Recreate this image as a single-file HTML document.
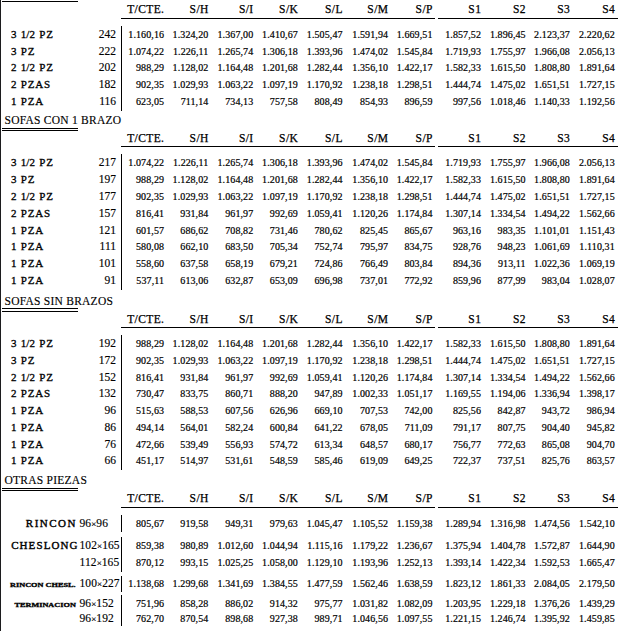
<!DOCTYPE html>
<html><head><meta charset="utf-8"><style>
html,body{margin:0;padding:0;background:#fff;width:631px;height:631px;overflow:hidden;position:relative}
.t{position:absolute;font-family:'Liberation Serif', serif;line-height:1;white-space:nowrap;color:#000}
.l{position:absolute;background:#000}
</style></head><body>
<div class="l" style="left:2px;top:1px;width:76px;height:1px"></div>
<div class="l" style="left:0;top:0;width:1px;height:631px;background:#1c1c1e"></div>
<div class="t" style="right:467.00px;top:4.00px;font-size:11.5px;font-weight:normal;-webkit-text-stroke:0.25px #000;letter-spacing:0.4px;margin-right:-0.4px">T/CTE.</div>
<div class="t" style="right:422.70px;top:4.00px;font-size:11.5px;font-weight:normal;-webkit-text-stroke:0.25px #000;letter-spacing:0.4px;margin-right:-0.4px">S/H</div>
<div class="t" style="right:377.80px;top:4.00px;font-size:11.5px;font-weight:normal;-webkit-text-stroke:0.25px #000;letter-spacing:0.4px;margin-right:-0.4px">S/I</div>
<div class="t" style="right:333.20px;top:4.00px;font-size:11.5px;font-weight:normal;-webkit-text-stroke:0.25px #000;letter-spacing:0.4px;margin-right:-0.4px">S/K</div>
<div class="t" style="right:288.50px;top:4.00px;font-size:11.5px;font-weight:normal;-webkit-text-stroke:0.25px #000;letter-spacing:0.4px;margin-right:-0.4px">S/L</div>
<div class="t" style="right:243.00px;top:4.00px;font-size:11.5px;font-weight:normal;-webkit-text-stroke:0.25px #000;letter-spacing:0.4px;margin-right:-0.4px">S/M</div>
<div class="t" style="right:198.60px;top:4.00px;font-size:11.5px;font-weight:normal;-webkit-text-stroke:0.25px #000;letter-spacing:0.4px;margin-right:-0.4px">S/P</div>
<div class="t" style="right:150.10px;top:4.00px;font-size:11.5px;font-weight:normal;-webkit-text-stroke:0.25px #000;letter-spacing:0.4px;margin-right:-0.4px">S1</div>
<div class="t" style="right:105.40px;top:4.00px;font-size:11.5px;font-weight:normal;-webkit-text-stroke:0.25px #000;letter-spacing:0.4px;margin-right:-0.4px">S2</div>
<div class="t" style="right:61.20px;top:4.00px;font-size:11.5px;font-weight:normal;-webkit-text-stroke:0.25px #000;letter-spacing:0.4px;margin-right:-0.4px">S3</div>
<div class="t" style="right:16.30px;top:4.00px;font-size:11.5px;font-weight:normal;-webkit-text-stroke:0.25px #000;letter-spacing:0.4px;margin-right:-0.4px">S4</div>
<div class="l" style="left:121px;top:18px;width:314px;height:1px"></div>
<div class="l" style="left:438px;top:18px;width:180px;height:1px"></div>
<div class="t" style="left:11.00px;top:29.00px;font-size:11px;font-weight:normal;-webkit-text-stroke:0.3px #000;letter-spacing:0.8px">3 <span style="letter-spacing:0">1/</span>2 PZ</div>
<div class="t" style="right:515.00px;top:29.00px;font-size:11.5px;font-weight:normal;-webkit-text-stroke:0.15px #000">242</div>
<div class="t" style="right:467.00px;top:30.00px;font-size:10px;font-weight:normal;letter-spacing:0.1px;margin-right:-0.1px;-webkit-text-stroke:0.2px #000">1.160,16</div>
<div class="t" style="right:422.70px;top:30.00px;font-size:10px;font-weight:normal;letter-spacing:0.1px;margin-right:-0.1px;-webkit-text-stroke:0.2px #000">1.324,20</div>
<div class="t" style="right:377.80px;top:30.00px;font-size:10px;font-weight:normal;letter-spacing:0.1px;margin-right:-0.1px;-webkit-text-stroke:0.2px #000">1.367,00</div>
<div class="t" style="right:333.20px;top:30.00px;font-size:10px;font-weight:normal;letter-spacing:0.1px;margin-right:-0.1px;-webkit-text-stroke:0.2px #000">1.410,67</div>
<div class="t" style="right:288.50px;top:30.00px;font-size:10px;font-weight:normal;letter-spacing:0.1px;margin-right:-0.1px;-webkit-text-stroke:0.2px #000">1.505,47</div>
<div class="t" style="right:243.00px;top:30.00px;font-size:10px;font-weight:normal;letter-spacing:0.1px;margin-right:-0.1px;-webkit-text-stroke:0.2px #000">1.591,94</div>
<div class="t" style="right:198.60px;top:30.00px;font-size:10px;font-weight:normal;letter-spacing:0.1px;margin-right:-0.1px;-webkit-text-stroke:0.2px #000">1.669,51</div>
<div class="t" style="right:150.10px;top:30.00px;font-size:10px;font-weight:normal;letter-spacing:0.1px;margin-right:-0.1px;-webkit-text-stroke:0.2px #000">1.857,52</div>
<div class="t" style="right:105.40px;top:30.00px;font-size:10px;font-weight:normal;letter-spacing:0.1px;margin-right:-0.1px;-webkit-text-stroke:0.2px #000">1.896,45</div>
<div class="t" style="right:61.20px;top:30.00px;font-size:10px;font-weight:normal;letter-spacing:0.1px;margin-right:-0.1px;-webkit-text-stroke:0.2px #000">2.123,37</div>
<div class="t" style="right:16.30px;top:30.00px;font-size:10px;font-weight:normal;letter-spacing:0.1px;margin-right:-0.1px;-webkit-text-stroke:0.2px #000">2.220,62</div>
<div class="t" style="left:11.00px;top:46.00px;font-size:11px;font-weight:normal;-webkit-text-stroke:0.3px #000;letter-spacing:0.8px">3 PZ</div>
<div class="t" style="right:515.00px;top:46.00px;font-size:11.5px;font-weight:normal;-webkit-text-stroke:0.15px #000">222</div>
<div class="t" style="right:467.00px;top:47.00px;font-size:10px;font-weight:normal;letter-spacing:0.1px;margin-right:-0.1px;-webkit-text-stroke:0.2px #000">1.074,22</div>
<div class="t" style="right:422.70px;top:47.00px;font-size:10px;font-weight:normal;letter-spacing:0.1px;margin-right:-0.1px;-webkit-text-stroke:0.2px #000">1.226,11</div>
<div class="t" style="right:377.80px;top:47.00px;font-size:10px;font-weight:normal;letter-spacing:0.1px;margin-right:-0.1px;-webkit-text-stroke:0.2px #000">1.265,74</div>
<div class="t" style="right:333.20px;top:47.00px;font-size:10px;font-weight:normal;letter-spacing:0.1px;margin-right:-0.1px;-webkit-text-stroke:0.2px #000">1.306,18</div>
<div class="t" style="right:288.50px;top:47.00px;font-size:10px;font-weight:normal;letter-spacing:0.1px;margin-right:-0.1px;-webkit-text-stroke:0.2px #000">1.393,96</div>
<div class="t" style="right:243.00px;top:47.00px;font-size:10px;font-weight:normal;letter-spacing:0.1px;margin-right:-0.1px;-webkit-text-stroke:0.2px #000">1.474,02</div>
<div class="t" style="right:198.60px;top:47.00px;font-size:10px;font-weight:normal;letter-spacing:0.1px;margin-right:-0.1px;-webkit-text-stroke:0.2px #000">1.545,84</div>
<div class="t" style="right:150.10px;top:47.00px;font-size:10px;font-weight:normal;letter-spacing:0.1px;margin-right:-0.1px;-webkit-text-stroke:0.2px #000">1.719,93</div>
<div class="t" style="right:105.40px;top:47.00px;font-size:10px;font-weight:normal;letter-spacing:0.1px;margin-right:-0.1px;-webkit-text-stroke:0.2px #000">1.755,97</div>
<div class="t" style="right:61.20px;top:47.00px;font-size:10px;font-weight:normal;letter-spacing:0.1px;margin-right:-0.1px;-webkit-text-stroke:0.2px #000">1.966,08</div>
<div class="t" style="right:16.30px;top:47.00px;font-size:10px;font-weight:normal;letter-spacing:0.1px;margin-right:-0.1px;-webkit-text-stroke:0.2px #000">2.056,13</div>
<div class="t" style="left:11.00px;top:62.00px;font-size:11px;font-weight:normal;-webkit-text-stroke:0.3px #000;letter-spacing:0.8px">2 <span style="letter-spacing:0">1/</span>2 PZ</div>
<div class="t" style="right:515.00px;top:62.00px;font-size:11.5px;font-weight:normal;-webkit-text-stroke:0.15px #000">202</div>
<div class="t" style="right:467.00px;top:63.00px;font-size:10px;font-weight:normal;letter-spacing:0.1px;margin-right:-0.1px;-webkit-text-stroke:0.2px #000">988,29</div>
<div class="t" style="right:422.70px;top:63.00px;font-size:10px;font-weight:normal;letter-spacing:0.1px;margin-right:-0.1px;-webkit-text-stroke:0.2px #000">1.128,02</div>
<div class="t" style="right:377.80px;top:63.00px;font-size:10px;font-weight:normal;letter-spacing:0.1px;margin-right:-0.1px;-webkit-text-stroke:0.2px #000">1.164,48</div>
<div class="t" style="right:333.20px;top:63.00px;font-size:10px;font-weight:normal;letter-spacing:0.1px;margin-right:-0.1px;-webkit-text-stroke:0.2px #000">1.201,68</div>
<div class="t" style="right:288.50px;top:63.00px;font-size:10px;font-weight:normal;letter-spacing:0.1px;margin-right:-0.1px;-webkit-text-stroke:0.2px #000">1.282,44</div>
<div class="t" style="right:243.00px;top:63.00px;font-size:10px;font-weight:normal;letter-spacing:0.1px;margin-right:-0.1px;-webkit-text-stroke:0.2px #000">1.356,10</div>
<div class="t" style="right:198.60px;top:63.00px;font-size:10px;font-weight:normal;letter-spacing:0.1px;margin-right:-0.1px;-webkit-text-stroke:0.2px #000">1.422,17</div>
<div class="t" style="right:150.10px;top:63.00px;font-size:10px;font-weight:normal;letter-spacing:0.1px;margin-right:-0.1px;-webkit-text-stroke:0.2px #000">1.582,33</div>
<div class="t" style="right:105.40px;top:63.00px;font-size:10px;font-weight:normal;letter-spacing:0.1px;margin-right:-0.1px;-webkit-text-stroke:0.2px #000">1.615,50</div>
<div class="t" style="right:61.20px;top:63.00px;font-size:10px;font-weight:normal;letter-spacing:0.1px;margin-right:-0.1px;-webkit-text-stroke:0.2px #000">1.808,80</div>
<div class="t" style="right:16.30px;top:63.00px;font-size:10px;font-weight:normal;letter-spacing:0.1px;margin-right:-0.1px;-webkit-text-stroke:0.2px #000">1.891,64</div>
<div class="t" style="left:11.00px;top:79.00px;font-size:11px;font-weight:normal;-webkit-text-stroke:0.3px #000;letter-spacing:0.8px">2 PZAS</div>
<div class="t" style="right:515.00px;top:79.00px;font-size:11.5px;font-weight:normal;-webkit-text-stroke:0.15px #000">182</div>
<div class="t" style="right:467.00px;top:80.00px;font-size:10px;font-weight:normal;letter-spacing:0.1px;margin-right:-0.1px;-webkit-text-stroke:0.2px #000">902,35</div>
<div class="t" style="right:422.70px;top:80.00px;font-size:10px;font-weight:normal;letter-spacing:0.1px;margin-right:-0.1px;-webkit-text-stroke:0.2px #000">1.029,93</div>
<div class="t" style="right:377.80px;top:80.00px;font-size:10px;font-weight:normal;letter-spacing:0.1px;margin-right:-0.1px;-webkit-text-stroke:0.2px #000">1.063,22</div>
<div class="t" style="right:333.20px;top:80.00px;font-size:10px;font-weight:normal;letter-spacing:0.1px;margin-right:-0.1px;-webkit-text-stroke:0.2px #000">1.097,19</div>
<div class="t" style="right:288.50px;top:80.00px;font-size:10px;font-weight:normal;letter-spacing:0.1px;margin-right:-0.1px;-webkit-text-stroke:0.2px #000">1.170,92</div>
<div class="t" style="right:243.00px;top:80.00px;font-size:10px;font-weight:normal;letter-spacing:0.1px;margin-right:-0.1px;-webkit-text-stroke:0.2px #000">1.238,18</div>
<div class="t" style="right:198.60px;top:80.00px;font-size:10px;font-weight:normal;letter-spacing:0.1px;margin-right:-0.1px;-webkit-text-stroke:0.2px #000">1.298,51</div>
<div class="t" style="right:150.10px;top:80.00px;font-size:10px;font-weight:normal;letter-spacing:0.1px;margin-right:-0.1px;-webkit-text-stroke:0.2px #000">1.444,74</div>
<div class="t" style="right:105.40px;top:80.00px;font-size:10px;font-weight:normal;letter-spacing:0.1px;margin-right:-0.1px;-webkit-text-stroke:0.2px #000">1.475,02</div>
<div class="t" style="right:61.20px;top:80.00px;font-size:10px;font-weight:normal;letter-spacing:0.1px;margin-right:-0.1px;-webkit-text-stroke:0.2px #000">1.651,51</div>
<div class="t" style="right:16.30px;top:80.00px;font-size:10px;font-weight:normal;letter-spacing:0.1px;margin-right:-0.1px;-webkit-text-stroke:0.2px #000">1.727,15</div>
<div class="t" style="left:11.00px;top:96.00px;font-size:11px;font-weight:normal;-webkit-text-stroke:0.3px #000;letter-spacing:0.8px">1 PZA</div>
<div class="t" style="right:515.00px;top:96.00px;font-size:11.5px;font-weight:normal;-webkit-text-stroke:0.15px #000">116</div>
<div class="t" style="right:467.00px;top:97.00px;font-size:10px;font-weight:normal;letter-spacing:0.1px;margin-right:-0.1px;-webkit-text-stroke:0.2px #000">623,05</div>
<div class="t" style="right:422.70px;top:97.00px;font-size:10px;font-weight:normal;letter-spacing:0.1px;margin-right:-0.1px;-webkit-text-stroke:0.2px #000">711,14</div>
<div class="t" style="right:377.80px;top:97.00px;font-size:10px;font-weight:normal;letter-spacing:0.1px;margin-right:-0.1px;-webkit-text-stroke:0.2px #000">734,13</div>
<div class="t" style="right:333.20px;top:97.00px;font-size:10px;font-weight:normal;letter-spacing:0.1px;margin-right:-0.1px;-webkit-text-stroke:0.2px #000">757,58</div>
<div class="t" style="right:288.50px;top:97.00px;font-size:10px;font-weight:normal;letter-spacing:0.1px;margin-right:-0.1px;-webkit-text-stroke:0.2px #000">808,49</div>
<div class="t" style="right:243.00px;top:97.00px;font-size:10px;font-weight:normal;letter-spacing:0.1px;margin-right:-0.1px;-webkit-text-stroke:0.2px #000">854,93</div>
<div class="t" style="right:198.60px;top:97.00px;font-size:10px;font-weight:normal;letter-spacing:0.1px;margin-right:-0.1px;-webkit-text-stroke:0.2px #000">896,59</div>
<div class="t" style="right:150.10px;top:97.00px;font-size:10px;font-weight:normal;letter-spacing:0.1px;margin-right:-0.1px;-webkit-text-stroke:0.2px #000">997,56</div>
<div class="t" style="right:105.40px;top:97.00px;font-size:10px;font-weight:normal;letter-spacing:0.1px;margin-right:-0.1px;-webkit-text-stroke:0.2px #000">1.018,46</div>
<div class="t" style="right:61.20px;top:97.00px;font-size:10px;font-weight:normal;letter-spacing:0.1px;margin-right:-0.1px;-webkit-text-stroke:0.2px #000">1.140,33</div>
<div class="t" style="right:16.30px;top:97.00px;font-size:10px;font-weight:normal;letter-spacing:0.1px;margin-right:-0.1px;-webkit-text-stroke:0.2px #000">1.192,56</div>
<div class="l" style="left:121px;top:26px;width:1px;height:85px"></div>
<div class="t" style="left:4.50px;top:115.00px;font-size:11.5px;font-weight:normal;letter-spacing:0.25px;-webkit-text-stroke:0.15px #000">SOFAS CON 1 BRAZO</div>
<div class="l" style="left:2px;top:128px;width:76px;height:1px"></div>
<div class="l" style="left:2px;top:130px;width:76px;height:1px"></div>
<div class="t" style="right:467.00px;top:133.00px;font-size:11.5px;font-weight:normal;-webkit-text-stroke:0.25px #000;letter-spacing:0.4px;margin-right:-0.4px">T/CTE.</div>
<div class="t" style="right:422.70px;top:133.00px;font-size:11.5px;font-weight:normal;-webkit-text-stroke:0.25px #000;letter-spacing:0.4px;margin-right:-0.4px">S/H</div>
<div class="t" style="right:377.80px;top:133.00px;font-size:11.5px;font-weight:normal;-webkit-text-stroke:0.25px #000;letter-spacing:0.4px;margin-right:-0.4px">S/I</div>
<div class="t" style="right:333.20px;top:133.00px;font-size:11.5px;font-weight:normal;-webkit-text-stroke:0.25px #000;letter-spacing:0.4px;margin-right:-0.4px">S/K</div>
<div class="t" style="right:288.50px;top:133.00px;font-size:11.5px;font-weight:normal;-webkit-text-stroke:0.25px #000;letter-spacing:0.4px;margin-right:-0.4px">S/L</div>
<div class="t" style="right:243.00px;top:133.00px;font-size:11.5px;font-weight:normal;-webkit-text-stroke:0.25px #000;letter-spacing:0.4px;margin-right:-0.4px">S/M</div>
<div class="t" style="right:198.60px;top:133.00px;font-size:11.5px;font-weight:normal;-webkit-text-stroke:0.25px #000;letter-spacing:0.4px;margin-right:-0.4px">S/P</div>
<div class="t" style="right:150.10px;top:133.00px;font-size:11.5px;font-weight:normal;-webkit-text-stroke:0.25px #000;letter-spacing:0.4px;margin-right:-0.4px">S1</div>
<div class="t" style="right:105.40px;top:133.00px;font-size:11.5px;font-weight:normal;-webkit-text-stroke:0.25px #000;letter-spacing:0.4px;margin-right:-0.4px">S2</div>
<div class="t" style="right:61.20px;top:133.00px;font-size:11.5px;font-weight:normal;-webkit-text-stroke:0.25px #000;letter-spacing:0.4px;margin-right:-0.4px">S3</div>
<div class="t" style="right:16.30px;top:133.00px;font-size:11.5px;font-weight:normal;-webkit-text-stroke:0.25px #000;letter-spacing:0.4px;margin-right:-0.4px">S4</div>
<div class="l" style="left:121px;top:146px;width:314px;height:1px"></div>
<div class="l" style="left:438px;top:146px;width:180px;height:1px"></div>
<div class="t" style="left:11.00px;top:157.00px;font-size:11px;font-weight:normal;-webkit-text-stroke:0.3px #000;letter-spacing:0.8px">3 <span style="letter-spacing:0">1/</span>2 PZ</div>
<div class="t" style="right:515.00px;top:157.00px;font-size:11.5px;font-weight:normal;-webkit-text-stroke:0.15px #000">217</div>
<div class="t" style="right:467.00px;top:158.00px;font-size:10px;font-weight:normal;letter-spacing:0.1px;margin-right:-0.1px;-webkit-text-stroke:0.2px #000">1.074,22</div>
<div class="t" style="right:422.70px;top:158.00px;font-size:10px;font-weight:normal;letter-spacing:0.1px;margin-right:-0.1px;-webkit-text-stroke:0.2px #000">1.226,11</div>
<div class="t" style="right:377.80px;top:158.00px;font-size:10px;font-weight:normal;letter-spacing:0.1px;margin-right:-0.1px;-webkit-text-stroke:0.2px #000">1.265,74</div>
<div class="t" style="right:333.20px;top:158.00px;font-size:10px;font-weight:normal;letter-spacing:0.1px;margin-right:-0.1px;-webkit-text-stroke:0.2px #000">1.306,18</div>
<div class="t" style="right:288.50px;top:158.00px;font-size:10px;font-weight:normal;letter-spacing:0.1px;margin-right:-0.1px;-webkit-text-stroke:0.2px #000">1.393,96</div>
<div class="t" style="right:243.00px;top:158.00px;font-size:10px;font-weight:normal;letter-spacing:0.1px;margin-right:-0.1px;-webkit-text-stroke:0.2px #000">1.474,02</div>
<div class="t" style="right:198.60px;top:158.00px;font-size:10px;font-weight:normal;letter-spacing:0.1px;margin-right:-0.1px;-webkit-text-stroke:0.2px #000">1.545,84</div>
<div class="t" style="right:150.10px;top:158.00px;font-size:10px;font-weight:normal;letter-spacing:0.1px;margin-right:-0.1px;-webkit-text-stroke:0.2px #000">1.719,93</div>
<div class="t" style="right:105.40px;top:158.00px;font-size:10px;font-weight:normal;letter-spacing:0.1px;margin-right:-0.1px;-webkit-text-stroke:0.2px #000">1.755,97</div>
<div class="t" style="right:61.20px;top:158.00px;font-size:10px;font-weight:normal;letter-spacing:0.1px;margin-right:-0.1px;-webkit-text-stroke:0.2px #000">1.966,08</div>
<div class="t" style="right:16.30px;top:158.00px;font-size:10px;font-weight:normal;letter-spacing:0.1px;margin-right:-0.1px;-webkit-text-stroke:0.2px #000">2.056,13</div>
<div class="t" style="left:11.00px;top:174.00px;font-size:11px;font-weight:normal;-webkit-text-stroke:0.3px #000;letter-spacing:0.8px">3 PZ</div>
<div class="t" style="right:515.00px;top:174.00px;font-size:11.5px;font-weight:normal;-webkit-text-stroke:0.15px #000">197</div>
<div class="t" style="right:467.00px;top:175.00px;font-size:10px;font-weight:normal;letter-spacing:0.1px;margin-right:-0.1px;-webkit-text-stroke:0.2px #000">988,29</div>
<div class="t" style="right:422.70px;top:175.00px;font-size:10px;font-weight:normal;letter-spacing:0.1px;margin-right:-0.1px;-webkit-text-stroke:0.2px #000">1.128,02</div>
<div class="t" style="right:377.80px;top:175.00px;font-size:10px;font-weight:normal;letter-spacing:0.1px;margin-right:-0.1px;-webkit-text-stroke:0.2px #000">1.164,48</div>
<div class="t" style="right:333.20px;top:175.00px;font-size:10px;font-weight:normal;letter-spacing:0.1px;margin-right:-0.1px;-webkit-text-stroke:0.2px #000">1.201,68</div>
<div class="t" style="right:288.50px;top:175.00px;font-size:10px;font-weight:normal;letter-spacing:0.1px;margin-right:-0.1px;-webkit-text-stroke:0.2px #000">1.282,44</div>
<div class="t" style="right:243.00px;top:175.00px;font-size:10px;font-weight:normal;letter-spacing:0.1px;margin-right:-0.1px;-webkit-text-stroke:0.2px #000">1.356,10</div>
<div class="t" style="right:198.60px;top:175.00px;font-size:10px;font-weight:normal;letter-spacing:0.1px;margin-right:-0.1px;-webkit-text-stroke:0.2px #000">1.422,17</div>
<div class="t" style="right:150.10px;top:175.00px;font-size:10px;font-weight:normal;letter-spacing:0.1px;margin-right:-0.1px;-webkit-text-stroke:0.2px #000">1.582,33</div>
<div class="t" style="right:105.40px;top:175.00px;font-size:10px;font-weight:normal;letter-spacing:0.1px;margin-right:-0.1px;-webkit-text-stroke:0.2px #000">1.615,50</div>
<div class="t" style="right:61.20px;top:175.00px;font-size:10px;font-weight:normal;letter-spacing:0.1px;margin-right:-0.1px;-webkit-text-stroke:0.2px #000">1.808,80</div>
<div class="t" style="right:16.30px;top:175.00px;font-size:10px;font-weight:normal;letter-spacing:0.1px;margin-right:-0.1px;-webkit-text-stroke:0.2px #000">1.891,64</div>
<div class="t" style="left:11.00px;top:191.00px;font-size:11px;font-weight:normal;-webkit-text-stroke:0.3px #000;letter-spacing:0.8px">2 <span style="letter-spacing:0">1/</span>2 PZ</div>
<div class="t" style="right:515.00px;top:191.00px;font-size:11.5px;font-weight:normal;-webkit-text-stroke:0.15px #000">177</div>
<div class="t" style="right:467.00px;top:192.00px;font-size:10px;font-weight:normal;letter-spacing:0.1px;margin-right:-0.1px;-webkit-text-stroke:0.2px #000">902,35</div>
<div class="t" style="right:422.70px;top:192.00px;font-size:10px;font-weight:normal;letter-spacing:0.1px;margin-right:-0.1px;-webkit-text-stroke:0.2px #000">1.029,93</div>
<div class="t" style="right:377.80px;top:192.00px;font-size:10px;font-weight:normal;letter-spacing:0.1px;margin-right:-0.1px;-webkit-text-stroke:0.2px #000">1.063,22</div>
<div class="t" style="right:333.20px;top:192.00px;font-size:10px;font-weight:normal;letter-spacing:0.1px;margin-right:-0.1px;-webkit-text-stroke:0.2px #000">1.097,19</div>
<div class="t" style="right:288.50px;top:192.00px;font-size:10px;font-weight:normal;letter-spacing:0.1px;margin-right:-0.1px;-webkit-text-stroke:0.2px #000">1.170,92</div>
<div class="t" style="right:243.00px;top:192.00px;font-size:10px;font-weight:normal;letter-spacing:0.1px;margin-right:-0.1px;-webkit-text-stroke:0.2px #000">1.238,18</div>
<div class="t" style="right:198.60px;top:192.00px;font-size:10px;font-weight:normal;letter-spacing:0.1px;margin-right:-0.1px;-webkit-text-stroke:0.2px #000">1.298,51</div>
<div class="t" style="right:150.10px;top:192.00px;font-size:10px;font-weight:normal;letter-spacing:0.1px;margin-right:-0.1px;-webkit-text-stroke:0.2px #000">1.444,74</div>
<div class="t" style="right:105.40px;top:192.00px;font-size:10px;font-weight:normal;letter-spacing:0.1px;margin-right:-0.1px;-webkit-text-stroke:0.2px #000">1.475,02</div>
<div class="t" style="right:61.20px;top:192.00px;font-size:10px;font-weight:normal;letter-spacing:0.1px;margin-right:-0.1px;-webkit-text-stroke:0.2px #000">1.651,51</div>
<div class="t" style="right:16.30px;top:192.00px;font-size:10px;font-weight:normal;letter-spacing:0.1px;margin-right:-0.1px;-webkit-text-stroke:0.2px #000">1.727,15</div>
<div class="t" style="left:11.00px;top:208.00px;font-size:11px;font-weight:normal;-webkit-text-stroke:0.3px #000;letter-spacing:0.8px">2 PZAS</div>
<div class="t" style="right:515.00px;top:208.00px;font-size:11.5px;font-weight:normal;-webkit-text-stroke:0.15px #000">157</div>
<div class="t" style="right:467.00px;top:209.00px;font-size:10px;font-weight:normal;letter-spacing:0.1px;margin-right:-0.1px;-webkit-text-stroke:0.2px #000">816,41</div>
<div class="t" style="right:422.70px;top:209.00px;font-size:10px;font-weight:normal;letter-spacing:0.1px;margin-right:-0.1px;-webkit-text-stroke:0.2px #000">931,84</div>
<div class="t" style="right:377.80px;top:209.00px;font-size:10px;font-weight:normal;letter-spacing:0.1px;margin-right:-0.1px;-webkit-text-stroke:0.2px #000">961,97</div>
<div class="t" style="right:333.20px;top:209.00px;font-size:10px;font-weight:normal;letter-spacing:0.1px;margin-right:-0.1px;-webkit-text-stroke:0.2px #000">992,69</div>
<div class="t" style="right:288.50px;top:209.00px;font-size:10px;font-weight:normal;letter-spacing:0.1px;margin-right:-0.1px;-webkit-text-stroke:0.2px #000">1.059,41</div>
<div class="t" style="right:243.00px;top:209.00px;font-size:10px;font-weight:normal;letter-spacing:0.1px;margin-right:-0.1px;-webkit-text-stroke:0.2px #000">1.120,26</div>
<div class="t" style="right:198.60px;top:209.00px;font-size:10px;font-weight:normal;letter-spacing:0.1px;margin-right:-0.1px;-webkit-text-stroke:0.2px #000">1.174,84</div>
<div class="t" style="right:150.10px;top:209.00px;font-size:10px;font-weight:normal;letter-spacing:0.1px;margin-right:-0.1px;-webkit-text-stroke:0.2px #000">1.307,14</div>
<div class="t" style="right:105.40px;top:209.00px;font-size:10px;font-weight:normal;letter-spacing:0.1px;margin-right:-0.1px;-webkit-text-stroke:0.2px #000">1.334,54</div>
<div class="t" style="right:61.20px;top:209.00px;font-size:10px;font-weight:normal;letter-spacing:0.1px;margin-right:-0.1px;-webkit-text-stroke:0.2px #000">1.494,22</div>
<div class="t" style="right:16.30px;top:209.00px;font-size:10px;font-weight:normal;letter-spacing:0.1px;margin-right:-0.1px;-webkit-text-stroke:0.2px #000">1.562,66</div>
<div class="t" style="left:11.00px;top:225.00px;font-size:11px;font-weight:normal;-webkit-text-stroke:0.3px #000;letter-spacing:0.8px">1 PZA</div>
<div class="t" style="right:515.00px;top:225.00px;font-size:11.5px;font-weight:normal;-webkit-text-stroke:0.15px #000">121</div>
<div class="t" style="right:467.00px;top:226.00px;font-size:10px;font-weight:normal;letter-spacing:0.1px;margin-right:-0.1px;-webkit-text-stroke:0.2px #000">601,57</div>
<div class="t" style="right:422.70px;top:226.00px;font-size:10px;font-weight:normal;letter-spacing:0.1px;margin-right:-0.1px;-webkit-text-stroke:0.2px #000">686,62</div>
<div class="t" style="right:377.80px;top:226.00px;font-size:10px;font-weight:normal;letter-spacing:0.1px;margin-right:-0.1px;-webkit-text-stroke:0.2px #000">708,82</div>
<div class="t" style="right:333.20px;top:226.00px;font-size:10px;font-weight:normal;letter-spacing:0.1px;margin-right:-0.1px;-webkit-text-stroke:0.2px #000">731,46</div>
<div class="t" style="right:288.50px;top:226.00px;font-size:10px;font-weight:normal;letter-spacing:0.1px;margin-right:-0.1px;-webkit-text-stroke:0.2px #000">780,62</div>
<div class="t" style="right:243.00px;top:226.00px;font-size:10px;font-weight:normal;letter-spacing:0.1px;margin-right:-0.1px;-webkit-text-stroke:0.2px #000">825,45</div>
<div class="t" style="right:198.60px;top:226.00px;font-size:10px;font-weight:normal;letter-spacing:0.1px;margin-right:-0.1px;-webkit-text-stroke:0.2px #000">865,67</div>
<div class="t" style="right:150.10px;top:226.00px;font-size:10px;font-weight:normal;letter-spacing:0.1px;margin-right:-0.1px;-webkit-text-stroke:0.2px #000">963,16</div>
<div class="t" style="right:105.40px;top:226.00px;font-size:10px;font-weight:normal;letter-spacing:0.1px;margin-right:-0.1px;-webkit-text-stroke:0.2px #000">983,35</div>
<div class="t" style="right:61.20px;top:226.00px;font-size:10px;font-weight:normal;letter-spacing:0.1px;margin-right:-0.1px;-webkit-text-stroke:0.2px #000">1.101,01</div>
<div class="t" style="right:16.30px;top:226.00px;font-size:10px;font-weight:normal;letter-spacing:0.1px;margin-right:-0.1px;-webkit-text-stroke:0.2px #000">1.151,43</div>
<div class="t" style="left:11.00px;top:241.00px;font-size:11px;font-weight:normal;-webkit-text-stroke:0.3px #000;letter-spacing:0.8px">1 PZA</div>
<div class="t" style="right:515.00px;top:241.00px;font-size:11.5px;font-weight:normal;-webkit-text-stroke:0.15px #000">111</div>
<div class="t" style="right:467.00px;top:242.00px;font-size:10px;font-weight:normal;letter-spacing:0.1px;margin-right:-0.1px;-webkit-text-stroke:0.2px #000">580,08</div>
<div class="t" style="right:422.70px;top:242.00px;font-size:10px;font-weight:normal;letter-spacing:0.1px;margin-right:-0.1px;-webkit-text-stroke:0.2px #000">662,10</div>
<div class="t" style="right:377.80px;top:242.00px;font-size:10px;font-weight:normal;letter-spacing:0.1px;margin-right:-0.1px;-webkit-text-stroke:0.2px #000">683,50</div>
<div class="t" style="right:333.20px;top:242.00px;font-size:10px;font-weight:normal;letter-spacing:0.1px;margin-right:-0.1px;-webkit-text-stroke:0.2px #000">705,34</div>
<div class="t" style="right:288.50px;top:242.00px;font-size:10px;font-weight:normal;letter-spacing:0.1px;margin-right:-0.1px;-webkit-text-stroke:0.2px #000">752,74</div>
<div class="t" style="right:243.00px;top:242.00px;font-size:10px;font-weight:normal;letter-spacing:0.1px;margin-right:-0.1px;-webkit-text-stroke:0.2px #000">795,97</div>
<div class="t" style="right:198.60px;top:242.00px;font-size:10px;font-weight:normal;letter-spacing:0.1px;margin-right:-0.1px;-webkit-text-stroke:0.2px #000">834,75</div>
<div class="t" style="right:150.10px;top:242.00px;font-size:10px;font-weight:normal;letter-spacing:0.1px;margin-right:-0.1px;-webkit-text-stroke:0.2px #000">928,76</div>
<div class="t" style="right:105.40px;top:242.00px;font-size:10px;font-weight:normal;letter-spacing:0.1px;margin-right:-0.1px;-webkit-text-stroke:0.2px #000">948,23</div>
<div class="t" style="right:61.20px;top:242.00px;font-size:10px;font-weight:normal;letter-spacing:0.1px;margin-right:-0.1px;-webkit-text-stroke:0.2px #000">1.061,69</div>
<div class="t" style="right:16.30px;top:242.00px;font-size:10px;font-weight:normal;letter-spacing:0.1px;margin-right:-0.1px;-webkit-text-stroke:0.2px #000">1.110,31</div>
<div class="t" style="left:11.00px;top:258.00px;font-size:11px;font-weight:normal;-webkit-text-stroke:0.3px #000;letter-spacing:0.8px">1 PZA</div>
<div class="t" style="right:515.00px;top:258.00px;font-size:11.5px;font-weight:normal;-webkit-text-stroke:0.15px #000">101</div>
<div class="t" style="right:467.00px;top:259.00px;font-size:10px;font-weight:normal;letter-spacing:0.1px;margin-right:-0.1px;-webkit-text-stroke:0.2px #000">558,60</div>
<div class="t" style="right:422.70px;top:259.00px;font-size:10px;font-weight:normal;letter-spacing:0.1px;margin-right:-0.1px;-webkit-text-stroke:0.2px #000">637,58</div>
<div class="t" style="right:377.80px;top:259.00px;font-size:10px;font-weight:normal;letter-spacing:0.1px;margin-right:-0.1px;-webkit-text-stroke:0.2px #000">658,19</div>
<div class="t" style="right:333.20px;top:259.00px;font-size:10px;font-weight:normal;letter-spacing:0.1px;margin-right:-0.1px;-webkit-text-stroke:0.2px #000">679,21</div>
<div class="t" style="right:288.50px;top:259.00px;font-size:10px;font-weight:normal;letter-spacing:0.1px;margin-right:-0.1px;-webkit-text-stroke:0.2px #000">724,86</div>
<div class="t" style="right:243.00px;top:259.00px;font-size:10px;font-weight:normal;letter-spacing:0.1px;margin-right:-0.1px;-webkit-text-stroke:0.2px #000">766,49</div>
<div class="t" style="right:198.60px;top:259.00px;font-size:10px;font-weight:normal;letter-spacing:0.1px;margin-right:-0.1px;-webkit-text-stroke:0.2px #000">803,84</div>
<div class="t" style="right:150.10px;top:259.00px;font-size:10px;font-weight:normal;letter-spacing:0.1px;margin-right:-0.1px;-webkit-text-stroke:0.2px #000">894,36</div>
<div class="t" style="right:105.40px;top:259.00px;font-size:10px;font-weight:normal;letter-spacing:0.1px;margin-right:-0.1px;-webkit-text-stroke:0.2px #000">913,11</div>
<div class="t" style="right:61.20px;top:259.00px;font-size:10px;font-weight:normal;letter-spacing:0.1px;margin-right:-0.1px;-webkit-text-stroke:0.2px #000">1.022,36</div>
<div class="t" style="right:16.30px;top:259.00px;font-size:10px;font-weight:normal;letter-spacing:0.1px;margin-right:-0.1px;-webkit-text-stroke:0.2px #000">1.069,19</div>
<div class="t" style="left:11.00px;top:275.00px;font-size:11px;font-weight:normal;-webkit-text-stroke:0.3px #000;letter-spacing:0.8px">1 PZA</div>
<div class="t" style="right:515.00px;top:275.00px;font-size:11.5px;font-weight:normal;-webkit-text-stroke:0.15px #000">91</div>
<div class="t" style="right:467.00px;top:276.00px;font-size:10px;font-weight:normal;letter-spacing:0.1px;margin-right:-0.1px;-webkit-text-stroke:0.2px #000">537,11</div>
<div class="t" style="right:422.70px;top:276.00px;font-size:10px;font-weight:normal;letter-spacing:0.1px;margin-right:-0.1px;-webkit-text-stroke:0.2px #000">613,06</div>
<div class="t" style="right:377.80px;top:276.00px;font-size:10px;font-weight:normal;letter-spacing:0.1px;margin-right:-0.1px;-webkit-text-stroke:0.2px #000">632,87</div>
<div class="t" style="right:333.20px;top:276.00px;font-size:10px;font-weight:normal;letter-spacing:0.1px;margin-right:-0.1px;-webkit-text-stroke:0.2px #000">653,09</div>
<div class="t" style="right:288.50px;top:276.00px;font-size:10px;font-weight:normal;letter-spacing:0.1px;margin-right:-0.1px;-webkit-text-stroke:0.2px #000">696,98</div>
<div class="t" style="right:243.00px;top:276.00px;font-size:10px;font-weight:normal;letter-spacing:0.1px;margin-right:-0.1px;-webkit-text-stroke:0.2px #000">737,01</div>
<div class="t" style="right:198.60px;top:276.00px;font-size:10px;font-weight:normal;letter-spacing:0.1px;margin-right:-0.1px;-webkit-text-stroke:0.2px #000">772,92</div>
<div class="t" style="right:150.10px;top:276.00px;font-size:10px;font-weight:normal;letter-spacing:0.1px;margin-right:-0.1px;-webkit-text-stroke:0.2px #000">859,96</div>
<div class="t" style="right:105.40px;top:276.00px;font-size:10px;font-weight:normal;letter-spacing:0.1px;margin-right:-0.1px;-webkit-text-stroke:0.2px #000">877,99</div>
<div class="t" style="right:61.20px;top:276.00px;font-size:10px;font-weight:normal;letter-spacing:0.1px;margin-right:-0.1px;-webkit-text-stroke:0.2px #000">983,04</div>
<div class="t" style="right:16.30px;top:276.00px;font-size:10px;font-weight:normal;letter-spacing:0.1px;margin-right:-0.1px;-webkit-text-stroke:0.2px #000">1.028,07</div>
<div class="l" style="left:121px;top:154px;width:1px;height:136px"></div>
<div class="t" style="left:4.50px;top:296.00px;font-size:11.5px;font-weight:normal;letter-spacing:0.25px;-webkit-text-stroke:0.15px #000">SOFAS SIN BRAZOS</div>
<div class="l" style="left:2px;top:308px;width:76px;height:1px"></div>
<div class="l" style="left:2px;top:311px;width:76px;height:1px"></div>
<div class="t" style="right:467.00px;top:314.00px;font-size:11.5px;font-weight:normal;-webkit-text-stroke:0.25px #000;letter-spacing:0.4px;margin-right:-0.4px">T/CTE.</div>
<div class="t" style="right:422.70px;top:314.00px;font-size:11.5px;font-weight:normal;-webkit-text-stroke:0.25px #000;letter-spacing:0.4px;margin-right:-0.4px">S/H</div>
<div class="t" style="right:377.80px;top:314.00px;font-size:11.5px;font-weight:normal;-webkit-text-stroke:0.25px #000;letter-spacing:0.4px;margin-right:-0.4px">S/I</div>
<div class="t" style="right:333.20px;top:314.00px;font-size:11.5px;font-weight:normal;-webkit-text-stroke:0.25px #000;letter-spacing:0.4px;margin-right:-0.4px">S/K</div>
<div class="t" style="right:288.50px;top:314.00px;font-size:11.5px;font-weight:normal;-webkit-text-stroke:0.25px #000;letter-spacing:0.4px;margin-right:-0.4px">S/L</div>
<div class="t" style="right:243.00px;top:314.00px;font-size:11.5px;font-weight:normal;-webkit-text-stroke:0.25px #000;letter-spacing:0.4px;margin-right:-0.4px">S/M</div>
<div class="t" style="right:198.60px;top:314.00px;font-size:11.5px;font-weight:normal;-webkit-text-stroke:0.25px #000;letter-spacing:0.4px;margin-right:-0.4px">S/P</div>
<div class="t" style="right:150.10px;top:314.00px;font-size:11.5px;font-weight:normal;-webkit-text-stroke:0.25px #000;letter-spacing:0.4px;margin-right:-0.4px">S1</div>
<div class="t" style="right:105.40px;top:314.00px;font-size:11.5px;font-weight:normal;-webkit-text-stroke:0.25px #000;letter-spacing:0.4px;margin-right:-0.4px">S2</div>
<div class="t" style="right:61.20px;top:314.00px;font-size:11.5px;font-weight:normal;-webkit-text-stroke:0.25px #000;letter-spacing:0.4px;margin-right:-0.4px">S3</div>
<div class="t" style="right:16.30px;top:314.00px;font-size:11.5px;font-weight:normal;-webkit-text-stroke:0.25px #000;letter-spacing:0.4px;margin-right:-0.4px">S4</div>
<div class="l" style="left:121px;top:327px;width:314px;height:1px"></div>
<div class="l" style="left:438px;top:327px;width:180px;height:1px"></div>
<div class="t" style="left:11.00px;top:338.00px;font-size:11px;font-weight:normal;-webkit-text-stroke:0.3px #000;letter-spacing:0.8px">3 <span style="letter-spacing:0">1/</span>2 PZ</div>
<div class="t" style="right:515.00px;top:338.00px;font-size:11.5px;font-weight:normal;-webkit-text-stroke:0.15px #000">192</div>
<div class="t" style="right:467.00px;top:339.00px;font-size:10px;font-weight:normal;letter-spacing:0.1px;margin-right:-0.1px;-webkit-text-stroke:0.2px #000">988,29</div>
<div class="t" style="right:422.70px;top:339.00px;font-size:10px;font-weight:normal;letter-spacing:0.1px;margin-right:-0.1px;-webkit-text-stroke:0.2px #000">1.128,02</div>
<div class="t" style="right:377.80px;top:339.00px;font-size:10px;font-weight:normal;letter-spacing:0.1px;margin-right:-0.1px;-webkit-text-stroke:0.2px #000">1.164,48</div>
<div class="t" style="right:333.20px;top:339.00px;font-size:10px;font-weight:normal;letter-spacing:0.1px;margin-right:-0.1px;-webkit-text-stroke:0.2px #000">1.201,68</div>
<div class="t" style="right:288.50px;top:339.00px;font-size:10px;font-weight:normal;letter-spacing:0.1px;margin-right:-0.1px;-webkit-text-stroke:0.2px #000">1.282,44</div>
<div class="t" style="right:243.00px;top:339.00px;font-size:10px;font-weight:normal;letter-spacing:0.1px;margin-right:-0.1px;-webkit-text-stroke:0.2px #000">1.356,10</div>
<div class="t" style="right:198.60px;top:339.00px;font-size:10px;font-weight:normal;letter-spacing:0.1px;margin-right:-0.1px;-webkit-text-stroke:0.2px #000">1.422,17</div>
<div class="t" style="right:150.10px;top:339.00px;font-size:10px;font-weight:normal;letter-spacing:0.1px;margin-right:-0.1px;-webkit-text-stroke:0.2px #000">1.582,33</div>
<div class="t" style="right:105.40px;top:339.00px;font-size:10px;font-weight:normal;letter-spacing:0.1px;margin-right:-0.1px;-webkit-text-stroke:0.2px #000">1.615,50</div>
<div class="t" style="right:61.20px;top:339.00px;font-size:10px;font-weight:normal;letter-spacing:0.1px;margin-right:-0.1px;-webkit-text-stroke:0.2px #000">1.808,80</div>
<div class="t" style="right:16.30px;top:339.00px;font-size:10px;font-weight:normal;letter-spacing:0.1px;margin-right:-0.1px;-webkit-text-stroke:0.2px #000">1.891,64</div>
<div class="t" style="left:11.00px;top:355.00px;font-size:11px;font-weight:normal;-webkit-text-stroke:0.3px #000;letter-spacing:0.8px">3 PZ</div>
<div class="t" style="right:515.00px;top:355.00px;font-size:11.5px;font-weight:normal;-webkit-text-stroke:0.15px #000">172</div>
<div class="t" style="right:467.00px;top:356.00px;font-size:10px;font-weight:normal;letter-spacing:0.1px;margin-right:-0.1px;-webkit-text-stroke:0.2px #000">902,35</div>
<div class="t" style="right:422.70px;top:356.00px;font-size:10px;font-weight:normal;letter-spacing:0.1px;margin-right:-0.1px;-webkit-text-stroke:0.2px #000">1.029,93</div>
<div class="t" style="right:377.80px;top:356.00px;font-size:10px;font-weight:normal;letter-spacing:0.1px;margin-right:-0.1px;-webkit-text-stroke:0.2px #000">1.063,22</div>
<div class="t" style="right:333.20px;top:356.00px;font-size:10px;font-weight:normal;letter-spacing:0.1px;margin-right:-0.1px;-webkit-text-stroke:0.2px #000">1.097,19</div>
<div class="t" style="right:288.50px;top:356.00px;font-size:10px;font-weight:normal;letter-spacing:0.1px;margin-right:-0.1px;-webkit-text-stroke:0.2px #000">1.170,92</div>
<div class="t" style="right:243.00px;top:356.00px;font-size:10px;font-weight:normal;letter-spacing:0.1px;margin-right:-0.1px;-webkit-text-stroke:0.2px #000">1.238,18</div>
<div class="t" style="right:198.60px;top:356.00px;font-size:10px;font-weight:normal;letter-spacing:0.1px;margin-right:-0.1px;-webkit-text-stroke:0.2px #000">1.298,51</div>
<div class="t" style="right:150.10px;top:356.00px;font-size:10px;font-weight:normal;letter-spacing:0.1px;margin-right:-0.1px;-webkit-text-stroke:0.2px #000">1.444,74</div>
<div class="t" style="right:105.40px;top:356.00px;font-size:10px;font-weight:normal;letter-spacing:0.1px;margin-right:-0.1px;-webkit-text-stroke:0.2px #000">1.475,02</div>
<div class="t" style="right:61.20px;top:356.00px;font-size:10px;font-weight:normal;letter-spacing:0.1px;margin-right:-0.1px;-webkit-text-stroke:0.2px #000">1.651,51</div>
<div class="t" style="right:16.30px;top:356.00px;font-size:10px;font-weight:normal;letter-spacing:0.1px;margin-right:-0.1px;-webkit-text-stroke:0.2px #000">1.727,15</div>
<div class="t" style="left:11.00px;top:372.00px;font-size:11px;font-weight:normal;-webkit-text-stroke:0.3px #000;letter-spacing:0.8px">2 <span style="letter-spacing:0">1/</span>2 PZ</div>
<div class="t" style="right:515.00px;top:372.00px;font-size:11.5px;font-weight:normal;-webkit-text-stroke:0.15px #000">152</div>
<div class="t" style="right:467.00px;top:373.00px;font-size:10px;font-weight:normal;letter-spacing:0.1px;margin-right:-0.1px;-webkit-text-stroke:0.2px #000">816,41</div>
<div class="t" style="right:422.70px;top:373.00px;font-size:10px;font-weight:normal;letter-spacing:0.1px;margin-right:-0.1px;-webkit-text-stroke:0.2px #000">931,84</div>
<div class="t" style="right:377.80px;top:373.00px;font-size:10px;font-weight:normal;letter-spacing:0.1px;margin-right:-0.1px;-webkit-text-stroke:0.2px #000">961,97</div>
<div class="t" style="right:333.20px;top:373.00px;font-size:10px;font-weight:normal;letter-spacing:0.1px;margin-right:-0.1px;-webkit-text-stroke:0.2px #000">992,69</div>
<div class="t" style="right:288.50px;top:373.00px;font-size:10px;font-weight:normal;letter-spacing:0.1px;margin-right:-0.1px;-webkit-text-stroke:0.2px #000">1.059,41</div>
<div class="t" style="right:243.00px;top:373.00px;font-size:10px;font-weight:normal;letter-spacing:0.1px;margin-right:-0.1px;-webkit-text-stroke:0.2px #000">1.120,26</div>
<div class="t" style="right:198.60px;top:373.00px;font-size:10px;font-weight:normal;letter-spacing:0.1px;margin-right:-0.1px;-webkit-text-stroke:0.2px #000">1.174,84</div>
<div class="t" style="right:150.10px;top:373.00px;font-size:10px;font-weight:normal;letter-spacing:0.1px;margin-right:-0.1px;-webkit-text-stroke:0.2px #000">1.307,14</div>
<div class="t" style="right:105.40px;top:373.00px;font-size:10px;font-weight:normal;letter-spacing:0.1px;margin-right:-0.1px;-webkit-text-stroke:0.2px #000">1.334,54</div>
<div class="t" style="right:61.20px;top:373.00px;font-size:10px;font-weight:normal;letter-spacing:0.1px;margin-right:-0.1px;-webkit-text-stroke:0.2px #000">1.494,22</div>
<div class="t" style="right:16.30px;top:373.00px;font-size:10px;font-weight:normal;letter-spacing:0.1px;margin-right:-0.1px;-webkit-text-stroke:0.2px #000">1.562,66</div>
<div class="t" style="left:11.00px;top:388.00px;font-size:11px;font-weight:normal;-webkit-text-stroke:0.3px #000;letter-spacing:0.8px">2 PZAS</div>
<div class="t" style="right:515.00px;top:388.00px;font-size:11.5px;font-weight:normal;-webkit-text-stroke:0.15px #000">132</div>
<div class="t" style="right:467.00px;top:389.00px;font-size:10px;font-weight:normal;letter-spacing:0.1px;margin-right:-0.1px;-webkit-text-stroke:0.2px #000">730,47</div>
<div class="t" style="right:422.70px;top:389.00px;font-size:10px;font-weight:normal;letter-spacing:0.1px;margin-right:-0.1px;-webkit-text-stroke:0.2px #000">833,75</div>
<div class="t" style="right:377.80px;top:389.00px;font-size:10px;font-weight:normal;letter-spacing:0.1px;margin-right:-0.1px;-webkit-text-stroke:0.2px #000">860,71</div>
<div class="t" style="right:333.20px;top:389.00px;font-size:10px;font-weight:normal;letter-spacing:0.1px;margin-right:-0.1px;-webkit-text-stroke:0.2px #000">888,20</div>
<div class="t" style="right:288.50px;top:389.00px;font-size:10px;font-weight:normal;letter-spacing:0.1px;margin-right:-0.1px;-webkit-text-stroke:0.2px #000">947,89</div>
<div class="t" style="right:243.00px;top:389.00px;font-size:10px;font-weight:normal;letter-spacing:0.1px;margin-right:-0.1px;-webkit-text-stroke:0.2px #000">1.002,33</div>
<div class="t" style="right:198.60px;top:389.00px;font-size:10px;font-weight:normal;letter-spacing:0.1px;margin-right:-0.1px;-webkit-text-stroke:0.2px #000">1.051,17</div>
<div class="t" style="right:150.10px;top:389.00px;font-size:10px;font-weight:normal;letter-spacing:0.1px;margin-right:-0.1px;-webkit-text-stroke:0.2px #000">1.169,55</div>
<div class="t" style="right:105.40px;top:389.00px;font-size:10px;font-weight:normal;letter-spacing:0.1px;margin-right:-0.1px;-webkit-text-stroke:0.2px #000">1.194,06</div>
<div class="t" style="right:61.20px;top:389.00px;font-size:10px;font-weight:normal;letter-spacing:0.1px;margin-right:-0.1px;-webkit-text-stroke:0.2px #000">1.336,94</div>
<div class="t" style="right:16.30px;top:389.00px;font-size:10px;font-weight:normal;letter-spacing:0.1px;margin-right:-0.1px;-webkit-text-stroke:0.2px #000">1.398,17</div>
<div class="t" style="left:11.00px;top:405.00px;font-size:11px;font-weight:normal;-webkit-text-stroke:0.3px #000;letter-spacing:0.8px">1 PZA</div>
<div class="t" style="right:515.00px;top:405.00px;font-size:11.5px;font-weight:normal;-webkit-text-stroke:0.15px #000">96</div>
<div class="t" style="right:467.00px;top:406.00px;font-size:10px;font-weight:normal;letter-spacing:0.1px;margin-right:-0.1px;-webkit-text-stroke:0.2px #000">515,63</div>
<div class="t" style="right:422.70px;top:406.00px;font-size:10px;font-weight:normal;letter-spacing:0.1px;margin-right:-0.1px;-webkit-text-stroke:0.2px #000">588,53</div>
<div class="t" style="right:377.80px;top:406.00px;font-size:10px;font-weight:normal;letter-spacing:0.1px;margin-right:-0.1px;-webkit-text-stroke:0.2px #000">607,56</div>
<div class="t" style="right:333.20px;top:406.00px;font-size:10px;font-weight:normal;letter-spacing:0.1px;margin-right:-0.1px;-webkit-text-stroke:0.2px #000">626,96</div>
<div class="t" style="right:288.50px;top:406.00px;font-size:10px;font-weight:normal;letter-spacing:0.1px;margin-right:-0.1px;-webkit-text-stroke:0.2px #000">669,10</div>
<div class="t" style="right:243.00px;top:406.00px;font-size:10px;font-weight:normal;letter-spacing:0.1px;margin-right:-0.1px;-webkit-text-stroke:0.2px #000">707,53</div>
<div class="t" style="right:198.60px;top:406.00px;font-size:10px;font-weight:normal;letter-spacing:0.1px;margin-right:-0.1px;-webkit-text-stroke:0.2px #000">742,00</div>
<div class="t" style="right:150.10px;top:406.00px;font-size:10px;font-weight:normal;letter-spacing:0.1px;margin-right:-0.1px;-webkit-text-stroke:0.2px #000">825,56</div>
<div class="t" style="right:105.40px;top:406.00px;font-size:10px;font-weight:normal;letter-spacing:0.1px;margin-right:-0.1px;-webkit-text-stroke:0.2px #000">842,87</div>
<div class="t" style="right:61.20px;top:406.00px;font-size:10px;font-weight:normal;letter-spacing:0.1px;margin-right:-0.1px;-webkit-text-stroke:0.2px #000">943,72</div>
<div class="t" style="right:16.30px;top:406.00px;font-size:10px;font-weight:normal;letter-spacing:0.1px;margin-right:-0.1px;-webkit-text-stroke:0.2px #000">986,94</div>
<div class="t" style="left:11.00px;top:422.00px;font-size:11px;font-weight:normal;-webkit-text-stroke:0.3px #000;letter-spacing:0.8px">1 PZA</div>
<div class="t" style="right:515.00px;top:422.00px;font-size:11.5px;font-weight:normal;-webkit-text-stroke:0.15px #000">86</div>
<div class="t" style="right:467.00px;top:423.00px;font-size:10px;font-weight:normal;letter-spacing:0.1px;margin-right:-0.1px;-webkit-text-stroke:0.2px #000">494,14</div>
<div class="t" style="right:422.70px;top:423.00px;font-size:10px;font-weight:normal;letter-spacing:0.1px;margin-right:-0.1px;-webkit-text-stroke:0.2px #000">564,01</div>
<div class="t" style="right:377.80px;top:423.00px;font-size:10px;font-weight:normal;letter-spacing:0.1px;margin-right:-0.1px;-webkit-text-stroke:0.2px #000">582,24</div>
<div class="t" style="right:333.20px;top:423.00px;font-size:10px;font-weight:normal;letter-spacing:0.1px;margin-right:-0.1px;-webkit-text-stroke:0.2px #000">600,84</div>
<div class="t" style="right:288.50px;top:423.00px;font-size:10px;font-weight:normal;letter-spacing:0.1px;margin-right:-0.1px;-webkit-text-stroke:0.2px #000">641,22</div>
<div class="t" style="right:243.00px;top:423.00px;font-size:10px;font-weight:normal;letter-spacing:0.1px;margin-right:-0.1px;-webkit-text-stroke:0.2px #000">678,05</div>
<div class="t" style="right:198.60px;top:423.00px;font-size:10px;font-weight:normal;letter-spacing:0.1px;margin-right:-0.1px;-webkit-text-stroke:0.2px #000">711,09</div>
<div class="t" style="right:150.10px;top:423.00px;font-size:10px;font-weight:normal;letter-spacing:0.1px;margin-right:-0.1px;-webkit-text-stroke:0.2px #000">791,17</div>
<div class="t" style="right:105.40px;top:423.00px;font-size:10px;font-weight:normal;letter-spacing:0.1px;margin-right:-0.1px;-webkit-text-stroke:0.2px #000">807,75</div>
<div class="t" style="right:61.20px;top:423.00px;font-size:10px;font-weight:normal;letter-spacing:0.1px;margin-right:-0.1px;-webkit-text-stroke:0.2px #000">904,40</div>
<div class="t" style="right:16.30px;top:423.00px;font-size:10px;font-weight:normal;letter-spacing:0.1px;margin-right:-0.1px;-webkit-text-stroke:0.2px #000">945,82</div>
<div class="t" style="left:11.00px;top:439.00px;font-size:11px;font-weight:normal;-webkit-text-stroke:0.3px #000;letter-spacing:0.8px">1 PZA</div>
<div class="t" style="right:515.00px;top:439.00px;font-size:11.5px;font-weight:normal;-webkit-text-stroke:0.15px #000">76</div>
<div class="t" style="right:467.00px;top:440.00px;font-size:10px;font-weight:normal;letter-spacing:0.1px;margin-right:-0.1px;-webkit-text-stroke:0.2px #000">472,66</div>
<div class="t" style="right:422.70px;top:440.00px;font-size:10px;font-weight:normal;letter-spacing:0.1px;margin-right:-0.1px;-webkit-text-stroke:0.2px #000">539,49</div>
<div class="t" style="right:377.80px;top:440.00px;font-size:10px;font-weight:normal;letter-spacing:0.1px;margin-right:-0.1px;-webkit-text-stroke:0.2px #000">556,93</div>
<div class="t" style="right:333.20px;top:440.00px;font-size:10px;font-weight:normal;letter-spacing:0.1px;margin-right:-0.1px;-webkit-text-stroke:0.2px #000">574,72</div>
<div class="t" style="right:288.50px;top:440.00px;font-size:10px;font-weight:normal;letter-spacing:0.1px;margin-right:-0.1px;-webkit-text-stroke:0.2px #000">613,34</div>
<div class="t" style="right:243.00px;top:440.00px;font-size:10px;font-weight:normal;letter-spacing:0.1px;margin-right:-0.1px;-webkit-text-stroke:0.2px #000">648,57</div>
<div class="t" style="right:198.60px;top:440.00px;font-size:10px;font-weight:normal;letter-spacing:0.1px;margin-right:-0.1px;-webkit-text-stroke:0.2px #000">680,17</div>
<div class="t" style="right:150.10px;top:440.00px;font-size:10px;font-weight:normal;letter-spacing:0.1px;margin-right:-0.1px;-webkit-text-stroke:0.2px #000">756,77</div>
<div class="t" style="right:105.40px;top:440.00px;font-size:10px;font-weight:normal;letter-spacing:0.1px;margin-right:-0.1px;-webkit-text-stroke:0.2px #000">772,63</div>
<div class="t" style="right:61.20px;top:440.00px;font-size:10px;font-weight:normal;letter-spacing:0.1px;margin-right:-0.1px;-webkit-text-stroke:0.2px #000">865,08</div>
<div class="t" style="right:16.30px;top:440.00px;font-size:10px;font-weight:normal;letter-spacing:0.1px;margin-right:-0.1px;-webkit-text-stroke:0.2px #000">904,70</div>
<div class="t" style="left:11.00px;top:455.00px;font-size:11px;font-weight:normal;-webkit-text-stroke:0.3px #000;letter-spacing:0.8px">1 PZA</div>
<div class="t" style="right:515.00px;top:455.00px;font-size:11.5px;font-weight:normal;-webkit-text-stroke:0.15px #000">66</div>
<div class="t" style="right:467.00px;top:456.00px;font-size:10px;font-weight:normal;letter-spacing:0.1px;margin-right:-0.1px;-webkit-text-stroke:0.2px #000">451,17</div>
<div class="t" style="right:422.70px;top:456.00px;font-size:10px;font-weight:normal;letter-spacing:0.1px;margin-right:-0.1px;-webkit-text-stroke:0.2px #000">514,97</div>
<div class="t" style="right:377.80px;top:456.00px;font-size:10px;font-weight:normal;letter-spacing:0.1px;margin-right:-0.1px;-webkit-text-stroke:0.2px #000">531,61</div>
<div class="t" style="right:333.20px;top:456.00px;font-size:10px;font-weight:normal;letter-spacing:0.1px;margin-right:-0.1px;-webkit-text-stroke:0.2px #000">548,59</div>
<div class="t" style="right:288.50px;top:456.00px;font-size:10px;font-weight:normal;letter-spacing:0.1px;margin-right:-0.1px;-webkit-text-stroke:0.2px #000">585,46</div>
<div class="t" style="right:243.00px;top:456.00px;font-size:10px;font-weight:normal;letter-spacing:0.1px;margin-right:-0.1px;-webkit-text-stroke:0.2px #000">619,09</div>
<div class="t" style="right:198.60px;top:456.00px;font-size:10px;font-weight:normal;letter-spacing:0.1px;margin-right:-0.1px;-webkit-text-stroke:0.2px #000">649,25</div>
<div class="t" style="right:150.10px;top:456.00px;font-size:10px;font-weight:normal;letter-spacing:0.1px;margin-right:-0.1px;-webkit-text-stroke:0.2px #000">722,37</div>
<div class="t" style="right:105.40px;top:456.00px;font-size:10px;font-weight:normal;letter-spacing:0.1px;margin-right:-0.1px;-webkit-text-stroke:0.2px #000">737,51</div>
<div class="t" style="right:61.20px;top:456.00px;font-size:10px;font-weight:normal;letter-spacing:0.1px;margin-right:-0.1px;-webkit-text-stroke:0.2px #000">825,76</div>
<div class="t" style="right:16.30px;top:456.00px;font-size:10px;font-weight:normal;letter-spacing:0.1px;margin-right:-0.1px;-webkit-text-stroke:0.2px #000">863,57</div>
<div class="l" style="left:121px;top:335px;width:1px;height:135px"></div>
<div class="t" style="left:4.50px;top:475.00px;font-size:11.5px;font-weight:normal;letter-spacing:0.25px;-webkit-text-stroke:0.15px #000">OTRAS PIEZAS</div>
<div class="l" style="left:2px;top:488px;width:76px;height:1px"></div>
<div class="l" style="left:2px;top:490px;width:76px;height:1px"></div>
<div class="t" style="right:467.00px;top:493.00px;font-size:11.5px;font-weight:normal;-webkit-text-stroke:0.25px #000;letter-spacing:0.4px;margin-right:-0.4px">T/CTE.</div>
<div class="t" style="right:422.70px;top:493.00px;font-size:11.5px;font-weight:normal;-webkit-text-stroke:0.25px #000;letter-spacing:0.4px;margin-right:-0.4px">S/H</div>
<div class="t" style="right:377.80px;top:493.00px;font-size:11.5px;font-weight:normal;-webkit-text-stroke:0.25px #000;letter-spacing:0.4px;margin-right:-0.4px">S/I</div>
<div class="t" style="right:333.20px;top:493.00px;font-size:11.5px;font-weight:normal;-webkit-text-stroke:0.25px #000;letter-spacing:0.4px;margin-right:-0.4px">S/K</div>
<div class="t" style="right:288.50px;top:493.00px;font-size:11.5px;font-weight:normal;-webkit-text-stroke:0.25px #000;letter-spacing:0.4px;margin-right:-0.4px">S/L</div>
<div class="t" style="right:243.00px;top:493.00px;font-size:11.5px;font-weight:normal;-webkit-text-stroke:0.25px #000;letter-spacing:0.4px;margin-right:-0.4px">S/M</div>
<div class="t" style="right:198.60px;top:493.00px;font-size:11.5px;font-weight:normal;-webkit-text-stroke:0.25px #000;letter-spacing:0.4px;margin-right:-0.4px">S/P</div>
<div class="t" style="right:150.10px;top:493.00px;font-size:11.5px;font-weight:normal;-webkit-text-stroke:0.25px #000;letter-spacing:0.4px;margin-right:-0.4px">S1</div>
<div class="t" style="right:105.40px;top:493.00px;font-size:11.5px;font-weight:normal;-webkit-text-stroke:0.25px #000;letter-spacing:0.4px;margin-right:-0.4px">S2</div>
<div class="t" style="right:61.20px;top:493.00px;font-size:11.5px;font-weight:normal;-webkit-text-stroke:0.25px #000;letter-spacing:0.4px;margin-right:-0.4px">S3</div>
<div class="t" style="right:16.30px;top:493.00px;font-size:11.5px;font-weight:normal;-webkit-text-stroke:0.25px #000;letter-spacing:0.4px;margin-right:-0.4px">S4</div>
<div class="l" style="left:121px;top:507px;width:314px;height:1px"></div>
<div class="l" style="left:438px;top:507px;width:180px;height:1px"></div>
<div class="t" style="right:555.50px;top:518.00px;font-size:11px;font-weight:normal;-webkit-text-stroke:0.4px #000;letter-spacing:1.5px;margin-right:-1.5px">RINCON</div>
<div class="t" style="left:79.50px;top:518.00px;font-size:11.5px;font-weight:normal;letter-spacing:0.1px;-webkit-text-stroke:0.15px #000">96<span style="font-size:9px;letter-spacing:0px">×</span>96</div>
<div class="t" style="right:467.00px;top:519.00px;font-size:10px;font-weight:normal;letter-spacing:0.1px;margin-right:-0.1px;-webkit-text-stroke:0.2px #000">805,67</div>
<div class="t" style="right:422.70px;top:519.00px;font-size:10px;font-weight:normal;letter-spacing:0.1px;margin-right:-0.1px;-webkit-text-stroke:0.2px #000">919,58</div>
<div class="t" style="right:377.80px;top:519.00px;font-size:10px;font-weight:normal;letter-spacing:0.1px;margin-right:-0.1px;-webkit-text-stroke:0.2px #000">949,31</div>
<div class="t" style="right:333.20px;top:519.00px;font-size:10px;font-weight:normal;letter-spacing:0.1px;margin-right:-0.1px;-webkit-text-stroke:0.2px #000">979,63</div>
<div class="t" style="right:288.50px;top:519.00px;font-size:10px;font-weight:normal;letter-spacing:0.1px;margin-right:-0.1px;-webkit-text-stroke:0.2px #000">1.045,47</div>
<div class="t" style="right:243.00px;top:519.00px;font-size:10px;font-weight:normal;letter-spacing:0.1px;margin-right:-0.1px;-webkit-text-stroke:0.2px #000">1.105,52</div>
<div class="t" style="right:198.60px;top:519.00px;font-size:10px;font-weight:normal;letter-spacing:0.1px;margin-right:-0.1px;-webkit-text-stroke:0.2px #000">1.159,38</div>
<div class="t" style="right:150.10px;top:519.00px;font-size:10px;font-weight:normal;letter-spacing:0.1px;margin-right:-0.1px;-webkit-text-stroke:0.2px #000">1.289,94</div>
<div class="t" style="right:105.40px;top:519.00px;font-size:10px;font-weight:normal;letter-spacing:0.1px;margin-right:-0.1px;-webkit-text-stroke:0.2px #000">1.316,98</div>
<div class="t" style="right:61.20px;top:519.00px;font-size:10px;font-weight:normal;letter-spacing:0.1px;margin-right:-0.1px;-webkit-text-stroke:0.2px #000">1.474,56</div>
<div class="t" style="right:16.30px;top:519.00px;font-size:10px;font-weight:normal;letter-spacing:0.1px;margin-right:-0.1px;-webkit-text-stroke:0.2px #000">1.542,10</div>
<div class="t" style="right:553.50px;top:540.00px;font-size:11px;font-weight:normal;-webkit-text-stroke:0.4px #000;letter-spacing:1.1px;margin-right:-1.1px">CHESLONG</div>
<div class="t" style="left:79.50px;top:540.00px;font-size:11.5px;font-weight:normal;letter-spacing:0.1px;-webkit-text-stroke:0.15px #000">102<span style="font-size:9px;letter-spacing:0px">×</span>165</div>
<div class="t" style="right:467.00px;top:541.00px;font-size:10px;font-weight:normal;letter-spacing:0.1px;margin-right:-0.1px;-webkit-text-stroke:0.2px #000">859,38</div>
<div class="t" style="right:422.70px;top:541.00px;font-size:10px;font-weight:normal;letter-spacing:0.1px;margin-right:-0.1px;-webkit-text-stroke:0.2px #000">980,89</div>
<div class="t" style="right:377.80px;top:541.00px;font-size:10px;font-weight:normal;letter-spacing:0.1px;margin-right:-0.1px;-webkit-text-stroke:0.2px #000">1.012,60</div>
<div class="t" style="right:333.20px;top:541.00px;font-size:10px;font-weight:normal;letter-spacing:0.1px;margin-right:-0.1px;-webkit-text-stroke:0.2px #000">1.044,94</div>
<div class="t" style="right:288.50px;top:541.00px;font-size:10px;font-weight:normal;letter-spacing:0.1px;margin-right:-0.1px;-webkit-text-stroke:0.2px #000">1.115,16</div>
<div class="t" style="right:243.00px;top:541.00px;font-size:10px;font-weight:normal;letter-spacing:0.1px;margin-right:-0.1px;-webkit-text-stroke:0.2px #000">1.179,22</div>
<div class="t" style="right:198.60px;top:541.00px;font-size:10px;font-weight:normal;letter-spacing:0.1px;margin-right:-0.1px;-webkit-text-stroke:0.2px #000">1.236,67</div>
<div class="t" style="right:150.10px;top:541.00px;font-size:10px;font-weight:normal;letter-spacing:0.1px;margin-right:-0.1px;-webkit-text-stroke:0.2px #000">1.375,94</div>
<div class="t" style="right:105.40px;top:541.00px;font-size:10px;font-weight:normal;letter-spacing:0.1px;margin-right:-0.1px;-webkit-text-stroke:0.2px #000">1.404,78</div>
<div class="t" style="right:61.20px;top:541.00px;font-size:10px;font-weight:normal;letter-spacing:0.1px;margin-right:-0.1px;-webkit-text-stroke:0.2px #000">1.572,87</div>
<div class="t" style="right:16.30px;top:541.00px;font-size:10px;font-weight:normal;letter-spacing:0.1px;margin-right:-0.1px;-webkit-text-stroke:0.2px #000">1.644,90</div>
<div class="t" style="left:79.50px;top:557.00px;font-size:11.5px;font-weight:normal;letter-spacing:0.1px;-webkit-text-stroke:0.15px #000">112<span style="font-size:9px;letter-spacing:0px">×</span>165</div>
<div class="t" style="right:467.00px;top:558.00px;font-size:10px;font-weight:normal;letter-spacing:0.1px;margin-right:-0.1px;-webkit-text-stroke:0.2px #000">870,12</div>
<div class="t" style="right:422.70px;top:558.00px;font-size:10px;font-weight:normal;letter-spacing:0.1px;margin-right:-0.1px;-webkit-text-stroke:0.2px #000">993,15</div>
<div class="t" style="right:377.80px;top:558.00px;font-size:10px;font-weight:normal;letter-spacing:0.1px;margin-right:-0.1px;-webkit-text-stroke:0.2px #000">1.025,25</div>
<div class="t" style="right:333.20px;top:558.00px;font-size:10px;font-weight:normal;letter-spacing:0.1px;margin-right:-0.1px;-webkit-text-stroke:0.2px #000">1.058,00</div>
<div class="t" style="right:288.50px;top:558.00px;font-size:10px;font-weight:normal;letter-spacing:0.1px;margin-right:-0.1px;-webkit-text-stroke:0.2px #000">1.129,10</div>
<div class="t" style="right:243.00px;top:558.00px;font-size:10px;font-weight:normal;letter-spacing:0.1px;margin-right:-0.1px;-webkit-text-stroke:0.2px #000">1.193,96</div>
<div class="t" style="right:198.60px;top:558.00px;font-size:10px;font-weight:normal;letter-spacing:0.1px;margin-right:-0.1px;-webkit-text-stroke:0.2px #000">1.252,13</div>
<div class="t" style="right:150.10px;top:558.00px;font-size:10px;font-weight:normal;letter-spacing:0.1px;margin-right:-0.1px;-webkit-text-stroke:0.2px #000">1.393,14</div>
<div class="t" style="right:105.40px;top:558.00px;font-size:10px;font-weight:normal;letter-spacing:0.1px;margin-right:-0.1px;-webkit-text-stroke:0.2px #000">1.422,34</div>
<div class="t" style="right:61.20px;top:558.00px;font-size:10px;font-weight:normal;letter-spacing:0.1px;margin-right:-0.1px;-webkit-text-stroke:0.2px #000">1.592,53</div>
<div class="t" style="right:16.30px;top:558.00px;font-size:10px;font-weight:normal;letter-spacing:0.1px;margin-right:-0.1px;-webkit-text-stroke:0.2px #000">1.665,47</div>
<div class="t" style="right:555.40px;top:581.00px;font-size:7.5px;font-weight:bold;-webkit-text-stroke:0.4px #000;transform:scale(1.1,0.85);transform-origin:100% 75%">RINCON CHESL.</div>
<div class="t" style="left:79.50px;top:578.00px;font-size:11.5px;font-weight:normal;letter-spacing:0.1px;-webkit-text-stroke:0.15px #000">100<span style="font-size:9px;letter-spacing:0px">×</span>227</div>
<div class="t" style="right:467.00px;top:579.00px;font-size:10px;font-weight:normal;letter-spacing:0.1px;margin-right:-0.1px;-webkit-text-stroke:0.2px #000">1.138,68</div>
<div class="t" style="right:422.70px;top:579.00px;font-size:10px;font-weight:normal;letter-spacing:0.1px;margin-right:-0.1px;-webkit-text-stroke:0.2px #000">1.299,68</div>
<div class="t" style="right:377.80px;top:579.00px;font-size:10px;font-weight:normal;letter-spacing:0.1px;margin-right:-0.1px;-webkit-text-stroke:0.2px #000">1.341,69</div>
<div class="t" style="right:333.20px;top:579.00px;font-size:10px;font-weight:normal;letter-spacing:0.1px;margin-right:-0.1px;-webkit-text-stroke:0.2px #000">1.384,55</div>
<div class="t" style="right:288.50px;top:579.00px;font-size:10px;font-weight:normal;letter-spacing:0.1px;margin-right:-0.1px;-webkit-text-stroke:0.2px #000">1.477,59</div>
<div class="t" style="right:243.00px;top:579.00px;font-size:10px;font-weight:normal;letter-spacing:0.1px;margin-right:-0.1px;-webkit-text-stroke:0.2px #000">1.562,46</div>
<div class="t" style="right:198.60px;top:579.00px;font-size:10px;font-weight:normal;letter-spacing:0.1px;margin-right:-0.1px;-webkit-text-stroke:0.2px #000">1.638,59</div>
<div class="t" style="right:150.10px;top:579.00px;font-size:10px;font-weight:normal;letter-spacing:0.1px;margin-right:-0.1px;-webkit-text-stroke:0.2px #000">1.823,12</div>
<div class="t" style="right:105.40px;top:579.00px;font-size:10px;font-weight:normal;letter-spacing:0.1px;margin-right:-0.1px;-webkit-text-stroke:0.2px #000">1.861,33</div>
<div class="t" style="right:61.20px;top:579.00px;font-size:10px;font-weight:normal;letter-spacing:0.1px;margin-right:-0.1px;-webkit-text-stroke:0.2px #000">2.084,05</div>
<div class="t" style="right:16.30px;top:579.00px;font-size:10px;font-weight:normal;letter-spacing:0.1px;margin-right:-0.1px;-webkit-text-stroke:0.2px #000">2.179,50</div>
<div class="t" style="right:555.40px;top:601.00px;font-size:7.5px;font-weight:bold;-webkit-text-stroke:0.4px #000;transform:scale(1.1,0.85);transform-origin:100% 75%">TERMINACION</div>
<div class="t" style="left:79.50px;top:598.00px;font-size:11.5px;font-weight:normal;letter-spacing:0.1px;-webkit-text-stroke:0.15px #000">96<span style="font-size:9px;letter-spacing:0px">×</span>152</div>
<div class="t" style="right:467.00px;top:599.00px;font-size:10px;font-weight:normal;letter-spacing:0.1px;margin-right:-0.1px;-webkit-text-stroke:0.2px #000">751,96</div>
<div class="t" style="right:422.70px;top:599.00px;font-size:10px;font-weight:normal;letter-spacing:0.1px;margin-right:-0.1px;-webkit-text-stroke:0.2px #000">858,28</div>
<div class="t" style="right:377.80px;top:599.00px;font-size:10px;font-weight:normal;letter-spacing:0.1px;margin-right:-0.1px;-webkit-text-stroke:0.2px #000">886,02</div>
<div class="t" style="right:333.20px;top:599.00px;font-size:10px;font-weight:normal;letter-spacing:0.1px;margin-right:-0.1px;-webkit-text-stroke:0.2px #000">914,32</div>
<div class="t" style="right:288.50px;top:599.00px;font-size:10px;font-weight:normal;letter-spacing:0.1px;margin-right:-0.1px;-webkit-text-stroke:0.2px #000">975,77</div>
<div class="t" style="right:243.00px;top:599.00px;font-size:10px;font-weight:normal;letter-spacing:0.1px;margin-right:-0.1px;-webkit-text-stroke:0.2px #000">1.031,82</div>
<div class="t" style="right:198.60px;top:599.00px;font-size:10px;font-weight:normal;letter-spacing:0.1px;margin-right:-0.1px;-webkit-text-stroke:0.2px #000">1.082,09</div>
<div class="t" style="right:150.10px;top:599.00px;font-size:10px;font-weight:normal;letter-spacing:0.1px;margin-right:-0.1px;-webkit-text-stroke:0.2px #000">1.203,95</div>
<div class="t" style="right:105.40px;top:599.00px;font-size:10px;font-weight:normal;letter-spacing:0.1px;margin-right:-0.1px;-webkit-text-stroke:0.2px #000">1.229,18</div>
<div class="t" style="right:61.20px;top:599.00px;font-size:10px;font-weight:normal;letter-spacing:0.1px;margin-right:-0.1px;-webkit-text-stroke:0.2px #000">1.376,26</div>
<div class="t" style="right:16.30px;top:599.00px;font-size:10px;font-weight:normal;letter-spacing:0.1px;margin-right:-0.1px;-webkit-text-stroke:0.2px #000">1.439,29</div>
<div class="t" style="left:79.50px;top:613.00px;font-size:11.5px;font-weight:normal;letter-spacing:0.1px;-webkit-text-stroke:0.15px #000">96<span style="font-size:9px;letter-spacing:0px">×</span>192</div>
<div class="t" style="right:467.00px;top:614.00px;font-size:10px;font-weight:normal;letter-spacing:0.1px;margin-right:-0.1px;-webkit-text-stroke:0.2px #000">762,70</div>
<div class="t" style="right:422.70px;top:614.00px;font-size:10px;font-weight:normal;letter-spacing:0.1px;margin-right:-0.1px;-webkit-text-stroke:0.2px #000">870,54</div>
<div class="t" style="right:377.80px;top:614.00px;font-size:10px;font-weight:normal;letter-spacing:0.1px;margin-right:-0.1px;-webkit-text-stroke:0.2px #000">898,68</div>
<div class="t" style="right:333.20px;top:614.00px;font-size:10px;font-weight:normal;letter-spacing:0.1px;margin-right:-0.1px;-webkit-text-stroke:0.2px #000">927,38</div>
<div class="t" style="right:288.50px;top:614.00px;font-size:10px;font-weight:normal;letter-spacing:0.1px;margin-right:-0.1px;-webkit-text-stroke:0.2px #000">989,71</div>
<div class="t" style="right:243.00px;top:614.00px;font-size:10px;font-weight:normal;letter-spacing:0.1px;margin-right:-0.1px;-webkit-text-stroke:0.2px #000">1.046,56</div>
<div class="t" style="right:198.60px;top:614.00px;font-size:10px;font-weight:normal;letter-spacing:0.1px;margin-right:-0.1px;-webkit-text-stroke:0.2px #000">1.097,55</div>
<div class="t" style="right:150.10px;top:614.00px;font-size:10px;font-weight:normal;letter-spacing:0.1px;margin-right:-0.1px;-webkit-text-stroke:0.2px #000">1.221,15</div>
<div class="t" style="right:105.40px;top:614.00px;font-size:10px;font-weight:normal;letter-spacing:0.1px;margin-right:-0.1px;-webkit-text-stroke:0.2px #000">1.246,74</div>
<div class="t" style="right:61.20px;top:614.00px;font-size:10px;font-weight:normal;letter-spacing:0.1px;margin-right:-0.1px;-webkit-text-stroke:0.2px #000">1.395,92</div>
<div class="t" style="right:16.30px;top:614.00px;font-size:10px;font-weight:normal;letter-spacing:0.1px;margin-right:-0.1px;-webkit-text-stroke:0.2px #000">1.459,85</div>
<div class="l" style="left:121px;top:515px;width:1px;height:17px"></div>
<div class="l" style="left:121px;top:537px;width:1px;height:35px"></div>
<div class="l" style="left:121px;top:576px;width:1px;height:16px"></div>
<div class="l" style="left:121px;top:595px;width:1px;height:31px"></div>
</body></html>
